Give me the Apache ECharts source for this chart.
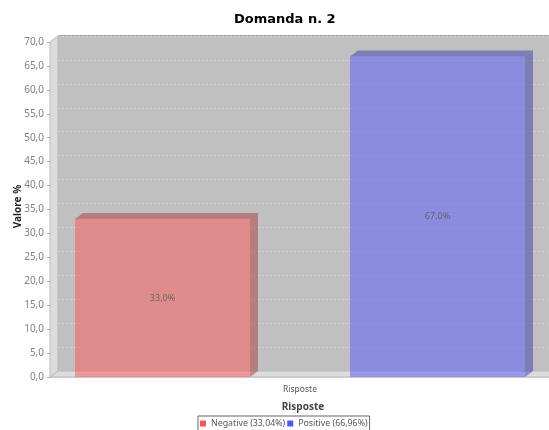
<!DOCTYPE html>
<html>
<head>
<meta charset="utf-8">
<style>html,body{margin:0;padding:0;background:#fff}#chart{width:549px;height:430px}</style>
<script src="https://cdn.jsdelivr.net/npm/echarts@6/dist/echarts.min.js"></script>
</head>
<body>
<div id="chart"></div>
<script>
var titleText = 'Domanda n. 2';
var categories = ['Risposte'];
var seriesNames = ['Negative (33,04%)', 'Positive (66,96%)'];
var negativeValues = [33.04];
var positiveValues = [66.96];
var yTitle = 'Valore %';
var xTitle = 'Risposte';

var font = 'Noto Sans';
var titleFont = 'DejaVu Sans';
var depthX = 8;
var depthY = 6;
var chart = echarts.init(document.getElementById('chart'));

function comma(v) {
    return v.toFixed(1).replace('.', ',');
}

// barra 3d: fronte, lato e tetto disegnati dalle coordinate dell'asse
function bar3d(startFrac, widthFrac, front, side, top) {
    return function (params, api) {
        var cs = params.coordSys;
        var x0 = cs.x + cs.width * startFrac;
        var x1 = x0 + cs.width * widthFrac;
        var yTop = api.coord([0, api.value(1)])[1];
        var yBase = api.coord([0, 0])[1];
        var children = [
            { type: 'polygon', shape: { points: [[x1, yTop], [x1 + depthX, yTop - depthY], [x1 + depthX, yBase - depthY], [x1, yBase]] }, style: { fill: side } },
            { type: 'polygon', shape: { points: [[x0, yTop], [x0 + depthX, yTop - depthY], [x1 + depthX, yTop - depthY], [x1, yTop]] }, style: { fill: top } },
            { type: 'rect', shape: { x: x0, y: yTop, width: x1 - x0, height: yBase - yTop }, style: { fill: front } },
            {
                type: 'text',
                style: {
                    x: (x0 + x1) / 2, y: (yTop + yBase) / 2,
                    text: comma(api.value(1)) + '%',
                    fill: '#666', font: '9px "' + font + '"', align: 'center', verticalAlign: 'middle'
                }
            }
        ];
        return { type: 'group', children: children };
    };
}

// pareti sinistra e pavimento
function walls(params) {
    var cs = params.coordSys;
    var l = cs.x, r = cs.x + cs.width, t = cs.y, b = cs.y + cs.height;
    return {
        type: 'group',
        children: [
            { type: 'polygon', shape: { points: [[l, t], [l + depthX, t - depthY], [l + depthX, b - depthY], [l, b]] }, style: { fill: '#dcdcdc', stroke: '#b8b8b8', lineWidth: 1 } },
            { type: 'polygon', shape: { points: [[l, b], [l + depthX, b - depthY], [r + depthX, b - depthY], [r, b]] }, style: { fill: '#dcdcdc', stroke: '#b8b8b8', lineWidth: 1 } },
            { type: 'line', shape: { x1: l + depthX, y1: t - depthY - 0.5, x2: r + depthX, y2: t - depthY - 0.5 }, style: { stroke: '#a8a8a8', lineWidth: 1 } }
        ]
    };
}

var option = {
    animation: false,
    title: {
        text: titleText, left: 234, top: 13, padding: 0,
        textStyle: { fontFamily: titleFont, fontSize: 13, fontWeight: 'bold', color: '#000' }
    },
    legend: {
        data: seriesNames,
        left: 198, top: 416, padding: [3, 2, 3, 2],
        itemWidth: 6, itemHeight: 6, itemGap: 2,
        icon: 'rect', borderColor: '#666', borderWidth: 1,
        textStyle: { fontFamily: font, fontSize: 8.8, color: '#555' },
        selectedMode: false
    },
    grid: [
        { left: 50, top: 42, width: 500, height: 335, outerBoundsMode: 'none' },
        { left: 58, top: 36, width: 500, height: 335, outerBoundsMode: 'none', show: true, backgroundColor: '#c0c0c0', borderWidth: 0 }
    ],
    xAxis: [
        {
            type: 'category', data: categories, gridIndex: 0, offset: 3,
            name: xTitle, nameLocation: 'middle', nameGap: 22,
            nameTextStyle: { fontFamily: font, fontSize: 10, fontWeight: 'bold', color: '#444', padding: [0, 0, 0, 6] },
            axisLine: { lineStyle: { color: '#ddd' } },
            axisTick: { alignWithLabel: true, length: 2, lineStyle: { color: '#aaa' } },
            axisLabel: { fontFamily: font, fontSize: 8.5, color: '#555', margin: 5 }
        },
        { type: 'category', data: categories, gridIndex: 1, show: false }
    ],
    yAxis: [
        {
            type: 'value', gridIndex: 0, min: 0, max: 70, interval: 5,
            name: yTitle, nameLocation: 'middle', nameGap: 27, nameMoveOverlap: false,
            nameTextStyle: { fontFamily: font, fontSize: 10, fontWeight: 'bold', color: '#222', padding: [0, 0, 0, 6] },
            axisLine: { show: true, lineStyle: { color: '#aaa' } },
            axisTick: { show: true, length: 3, lineStyle: { color: '#aaa' } },
            axisLabel: { fontFamily: font, fontSize: 10, color: '#808080', margin: 6, padding: [2, 0, 0, 0], formatter: comma },
            splitLine: { show: false }
        },
        {
            type: 'value', gridIndex: 1, min: 0, max: 70, interval: 5,
            axisLine: { show: false }, axisTick: { show: false }, axisLabel: { show: false },
            splitLine: { show: true, lineStyle: { color: '#d2d2d2', type: [2, 2], width: 1 } }
        }
    ],
    series: [
        { type: 'custom', name: 'pareti', data: [[0, 0]], renderItem: walls, silent: true, z: 1, clip: false },
        {
            type: 'custom', name: seriesNames[0], itemStyle: { color: '#ff5555' }, z: 2, clip: false,
            data: negativeValues.map(function (v, i) { return [i, v]; }),
            encode: { x: 0, y: 1 },
            renderItem: bar3d(0.05, 0.35, 'rgba(255,85,85,0.5)', 'rgba(170,57,57,0.5)', 'rgba(170,57,57,0.5)')
        },
        {
            type: 'custom', name: seriesNames[1], itemStyle: { color: '#5555ff' }, z: 2, clip: false,
            data: positiveValues.map(function (v, i) { return [i, v]; }),
            encode: { x: 0, y: 1 },
            renderItem: bar3d(0.6, 0.35, 'rgba(85,85,255,0.5)', 'rgba(57,57,170,0.5)', 'rgba(57,57,170,0.5)')
        }
    ]
};
chart.setOption(option);
</script>
</body>
</html>
